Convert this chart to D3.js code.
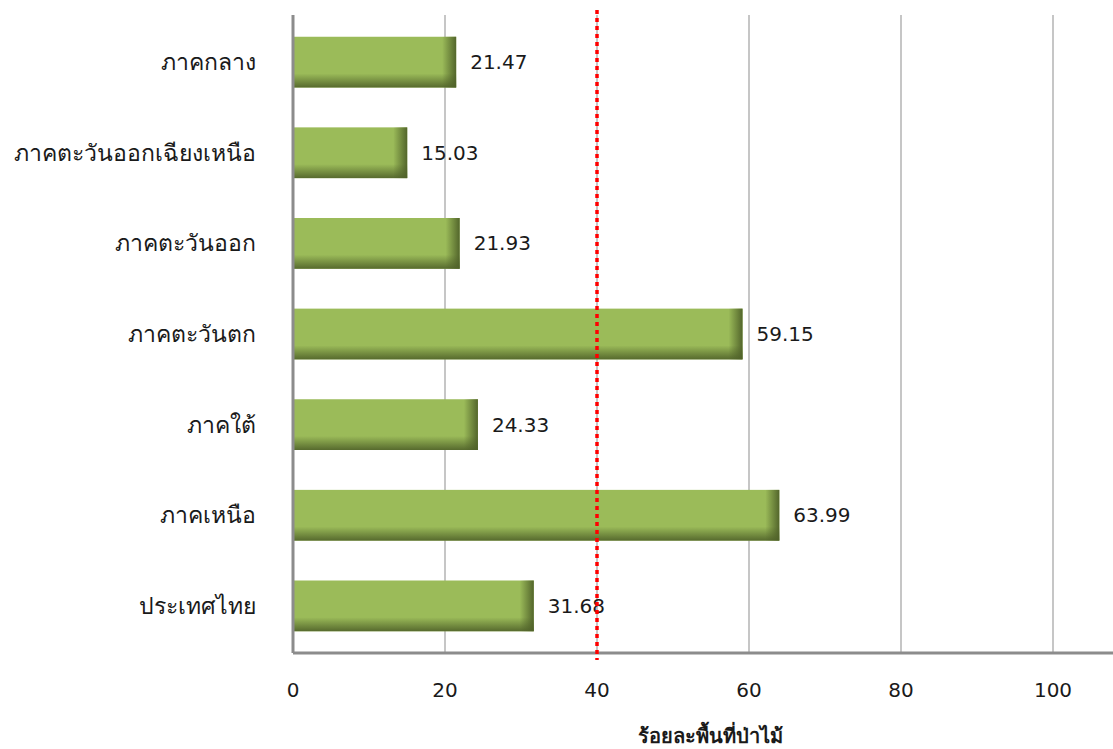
<!DOCTYPE html>
<html>
<head>
<meta charset="utf-8">
<script src="https://cdn.jsdelivr.net/npm/d3@7"></script>
<style>
  body { margin: 0; background: #fff; }
  text { font-family: Tahoma, "DejaVu Sans", "Noto Sans", sans-serif; fill: #1a1a1a; }
</style>
</head>
<body>
<script>
// data
const regions = ['ภาคกลาง', 'ภาคตะวันออกเฉียงเหนือ', 'ภาคตะวันออก', 'ภาคตะวันตก', 'ภาคใต้', 'ภาคเหนือ', 'ประเทศไทย']
const forestPct = [21.47, 15.03, 21.93, 59.15, 24.33, 63.99, 31.68]
const xTicks = [0, 20, 40, 60, 80, 100]
const target = 40
const xTitle = 'ร้อยละพื้นที่ป่าไม้'

const data = regions.map((r, i) => ({region: r, value: forestPct[i]}))

const width = 1113
const height = 749
const margin = {top: 15, left: 293, bottom: 96}

const svg = d3.select('body').append('svg')
  .attr('width', width)
  .attr('height', height)

const defs = svg.append('defs')
const gRight = defs.append('linearGradient').attr('id', 'shadeRight')
  .attr('x1', 0).attr('x2', 1).attr('y1', 0).attr('y2', 0)
gRight.append('stop').attr('offset', '0%').attr('stop-color', '#4f6129').attr('stop-opacity', 0)
gRight.append('stop').attr('offset', '100%').attr('stop-color', '#4f6129').attr('stop-opacity', 0.95)
const gBottom = defs.append('linearGradient').attr('id', 'shadeBottom')
  .attr('x1', 0).attr('x2', 0).attr('y1', 0).attr('y2', 1)
gBottom.append('stop').attr('offset', '0%').attr('stop-color', '#4f6129').attr('stop-opacity', 0)
gBottom.append('stop').attr('offset', '100%').attr('stop-color', '#4f6129').attr('stop-opacity', 0.9)

const xScale = d3.scaleLinear()
  .domain([0, 110])
  .range([margin.left, margin.left + 110 * 7.6])

const yScale = d3.scaleBand()
  .domain(regions)
  .range([margin.top, height - margin.bottom])
  .paddingInner(0.44)
  .paddingOuter(0.24)

const bottomY = height - margin.bottom

// gridlines
svg.append('g').selectAll('line')
  .data(xTicks.filter(d => d > 0))
  .enter()
  .append('line')
  .attr('x1', d => xScale(d))
  .attr('x2', d => xScale(d))
  .attr('y1', margin.top)
  .attr('y2', bottomY)
  .attr('stroke', '#c6c6c6')
  .attr('stroke-width', 2)

// bars
const bars = svg.append('g').selectAll('g')
  .data(data)
  .enter()
  .append('g')

bars.append('rect')
  .attr('x', xScale(0))
  .attr('y', d => yScale(d.region))
  .attr('width', d => xScale(d.value) - xScale(0))
  .attr('height', yScale.bandwidth())
  .attr('fill', '#9bbb59')

bars.append('rect')
  .attr('x', xScale(0))
  .attr('y', d => yScale(d.region) + yScale.bandwidth() - 14)
  .attr('width', d => xScale(d.value) - xScale(0))
  .attr('height', 14)
  .attr('fill', 'url(#shadeBottom)')

bars.append('rect')
  .attr('x', d => xScale(d.value) - 14)
  .attr('y', d => yScale(d.region))
  .attr('width', 14)
  .attr('height', yScale.bandwidth())
  .attr('fill', 'url(#shadeRight)')

// value labels
svg.append('g').selectAll('text')
  .data(data)
  .enter()
  .append('text')
  .attr('x', d => xScale(d.value) + 14)
  .attr('y', d => yScale(d.region) + yScale.bandwidth() / 2 + 7)
  .attr('font-size', 20)
  .text(d => d.value.toFixed(2))

// category labels
svg.append('g').selectAll('text')
  .data(data)
  .enter()
  .append('text')
  .attr('x', 256)
  .attr('y', d => yScale(d.region) + yScale.bandwidth() / 2 + 8)
  .attr('text-anchor', 'end')
  .attr('font-size', 23)
  .text(d => d.region)

// axis lines
svg.append('line')
  .attr('x1', xScale(0)).attr('x2', width)
  .attr('y1', bottomY).attr('y2', bottomY)
  .attr('stroke', '#8c8c8c').attr('stroke-width', 3)
svg.append('line')
  .attr('x1', xScale(0)).attr('x2', xScale(0))
  .attr('y1', margin.top).attr('y2', bottomY)
  .attr('stroke', '#8c8c8c').attr('stroke-width', 3)

// x tick labels
svg.append('g').selectAll('text')
  .data(xTicks)
  .enter()
  .append('text')
  .attr('x', d => xScale(d))
  .attr('y', 697)
  .attr('text-anchor', 'middle')
  .attr('font-size', 20)
  .text(d => d)

svg.append('text')
  .attr('x', 710)
  .attr('y', 743)
  .attr('text-anchor', 'middle')
  .attr('font-size', 20)
  .attr('font-weight', 'bold')
  .text(xTitle)

// target line
svg.append('line')
  .attr('x1', xScale(target)).attr('x2', xScale(target))
  .attr('y1', 10).attr('y2', 660)
  .attr('stroke', '#ff0000')
  .attr('stroke-width', 3.5)
  .attr('stroke-dasharray', '4 4')
</script>
</body>
</html>
